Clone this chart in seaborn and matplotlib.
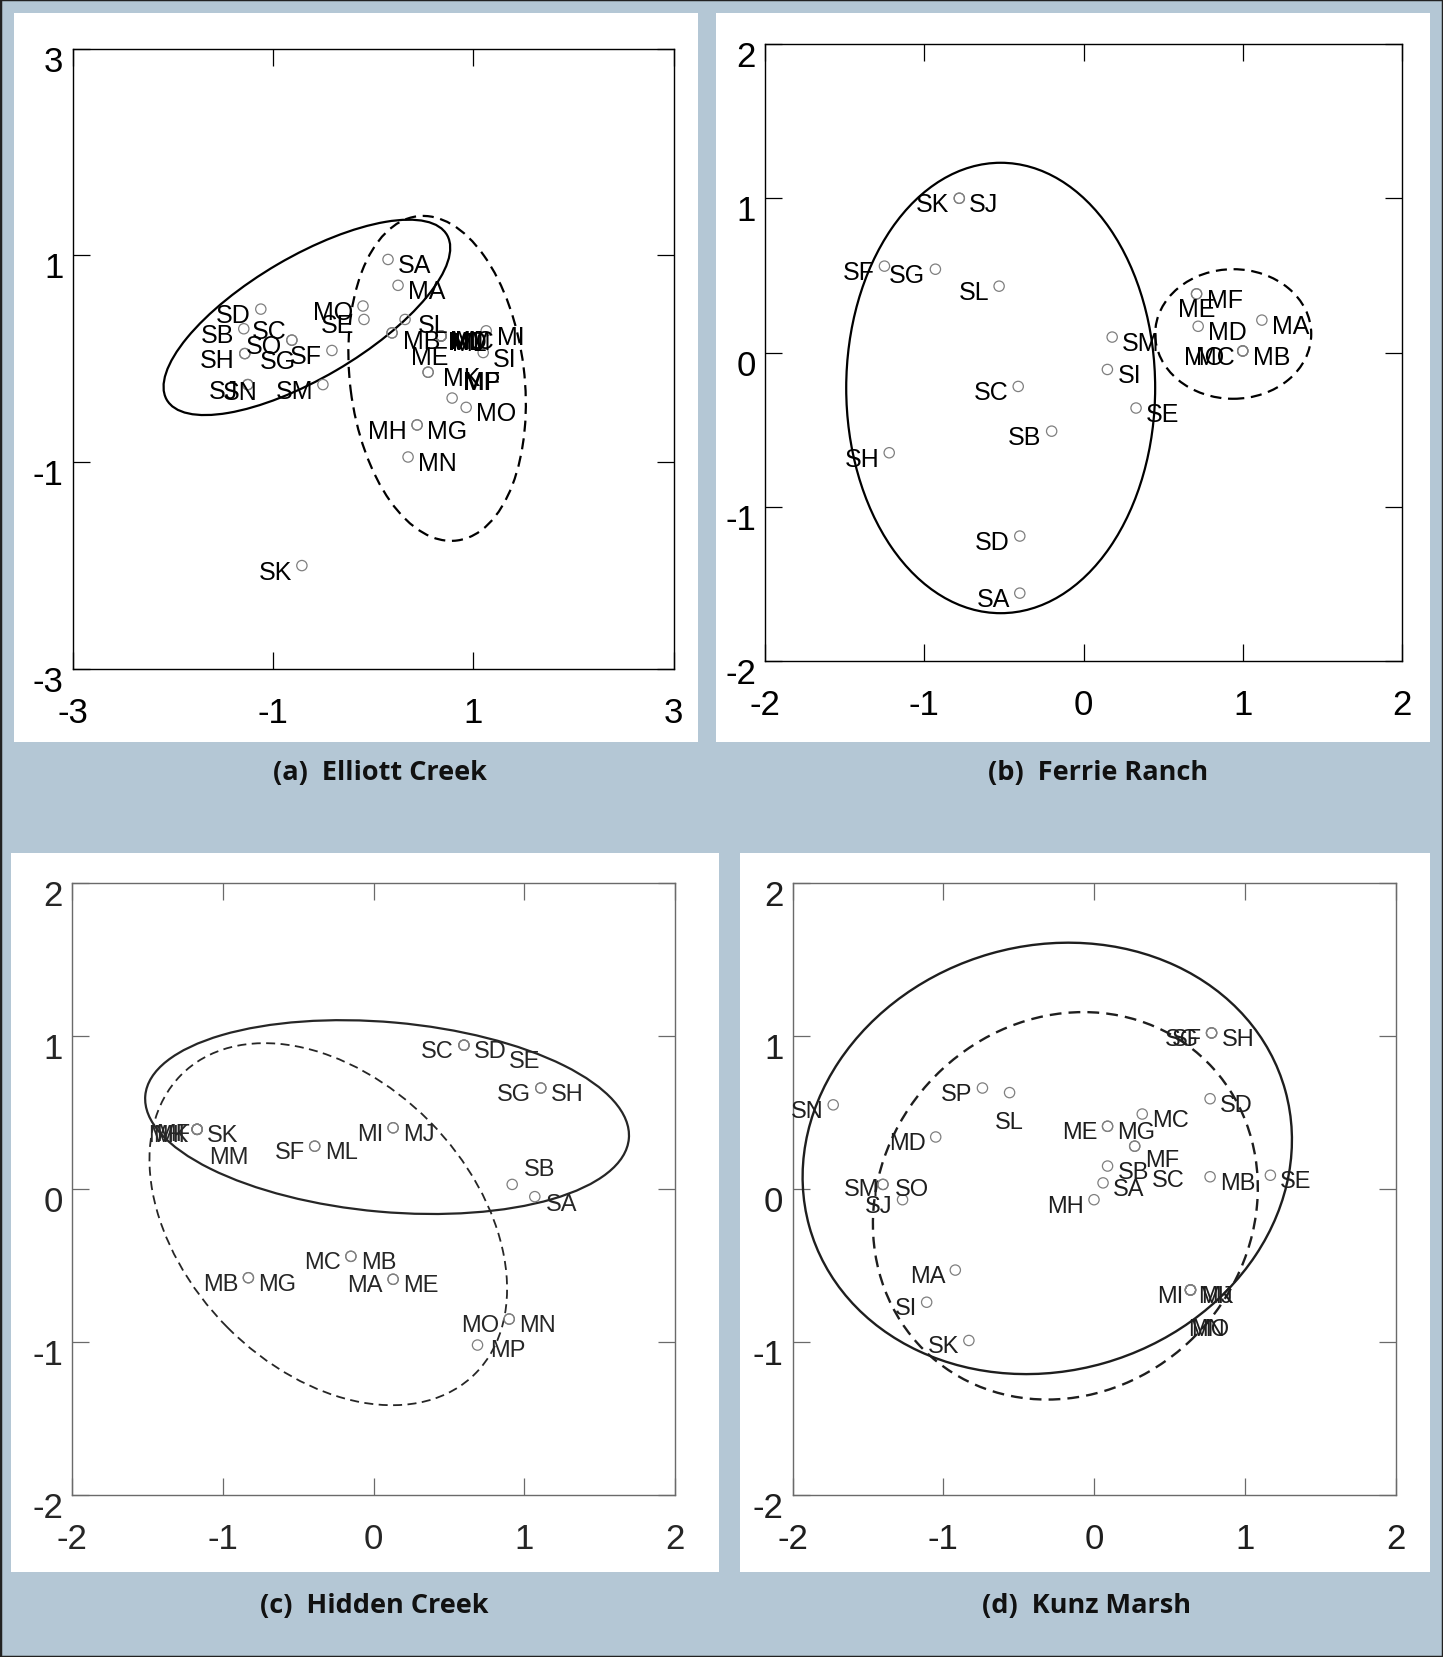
import numpy as np
import pandas as pd
import matplotlib
matplotlib.use("Agg")
import matplotlib.pyplot as plt
from matplotlib.patches import Ellipse, Rectangle
from matplotlib.transforms import ScaledTranslation
import seaborn as sns

sns.set_style("white")
plt.rcParams["font.family"] = ["Liberation Sans", "DejaVu Sans"]
plt.rcParams["axes.unicode_minus"] = False

W, H = 1443, 1658

# ---------------- (a) Elliott Creek ----------------
elliott_sites = ["SA", "MA", "MO", "SE", "SD", "SB", "SC", "SO", "SH", "SG", "SF", "SJ", "SN",
                 "SM", "SL", "MB", "ME", "MD", "MJ", "ML", "MM", "MC", "MI", "SI", "MK", "MP",
                 "MF", "MO", "MH", "MG", "MN", "SK"]
elliott_x = [0.15, 0.25, -0.10, -0.09, -1.12, -1.29, -0.81, -0.81, -1.28, -1.28, -0.41, -1.25, -1.25,
             -0.50, 0.32, 0.19, 0.19, 0.68, 0.68, 0.68, 0.68, 0.68, 1.13, 1.10, 0.55, 0.55,
             0.79, 0.93, 0.44, 0.44, 0.35, -0.71]
elliott_y = [0.96, 0.71, 0.51, 0.38, 0.48, 0.29, 0.18, 0.18, 0.05, 0.05, 0.08, -0.25, -0.25,
             -0.25, 0.38, 0.25, 0.25, 0.22, 0.22, 0.22, 0.22, 0.22, 0.27, 0.06, -0.13, -0.13,
             -0.38, -0.47, -0.64, -0.64, -0.95, -2.00]
elliott_ell_center = [(-0.66, 0.40), (0.64, -0.19)]
elliott_ell_radii = [(1.61, 0.59), (1.58, 0.87)]
elliott_ell_angle = [29.5, -82.7]

# ---------------- (b) Ferrie Ranch ----------------
ferrie_sites = ["SK", "SJ", "SF", "SG", "SL", "SM", "SI", "SE", "SC", "SB", "SH", "SD", "SA",
                "ME", "MF", "MD", "MA", "MB", "MC", "MO"]
ferrie_x = [-0.78, -0.78, -1.25, -0.93, -0.53, 0.18, 0.15, 0.33, -0.41, -0.20, -1.22, -0.40, -0.40,
            0.71, 0.71, 0.72, 1.12, 1.00, 1.00, 1.00]
ferrie_y = [1.00, 1.00, 0.56, 0.54, 0.43, 0.10, -0.11, -0.36, -0.22, -0.51, -0.65, -1.19, -1.56,
            0.38, 0.38, 0.17, 0.21, 0.01, 0.01, 0.01]
ferrie_ell_center = [(-0.52, -0.23), (0.94, 0.12)]
ferrie_ell_radii = [(0.97, 1.46), (0.49, 0.42)]
ferrie_ell_angle = [0.0, 0.0]

# ---------------- (c) Hidden Creek ----------------
hidden_sites = ["SC", "SD", "SE", "SG", "SH", "SK", "MM", "MK", "MH", "MF", "SF", "ML", "MI", "MJ",
                "SB", "SA", "MB", "MG", "MC", "MB", "MA", "ME", "MO", "MN", "MP"]
hidden_x = [0.60, 0.60, 0.60, 1.11, 1.11, -1.17, -1.17, -1.17, -1.17, -1.17, -0.39, -0.39, 0.13, 0.13,
            0.92, 1.07, -0.83, -0.83, -0.15, -0.15, 0.13, 0.13, 0.90, 0.90, 0.69]
hidden_y = [0.94, 0.94, 0.94, 0.66, 0.66, 0.39, 0.39, 0.39, 0.39, 0.39, 0.28, 0.28, 0.40, 0.40,
            0.03, -0.05, -0.58, -0.58, -0.44, -0.44, -0.59, -0.59, -0.85, -0.85, -1.02]
hidden_ell_center = [(0.09, 0.47), (-0.30, -0.23)]
hidden_ell_radii = [(1.61, 0.62), (1.38, 0.95)]
hidden_ell_angle = [-5.0, -44.8]

# ---------------- (d) Kunz Marsh ----------------
kunz_sites = ["SN", "SP", "SL", "MD", "SM", "SO", "SJ", "ME", "MG", "MC", "MF", "SC", "SB", "SA",
              "MH", "MB", "SE", "SH", "SF", "SG", "SD", "MA", "SI", "SK", "MI", "MK", "MJ", "MN", "MO"]
kunz_x = [-1.73, -0.74, -0.56, -1.05, -1.40, -1.40, -1.27, 0.09, 0.09, 0.32, 0.27, 0.27, 0.09, 0.06,
          0.00, 0.77, 1.17, 0.78, 0.78, 0.78, 0.77, -0.92, -1.11, -0.83, 0.64, 0.64, 0.64, 0.64, 0.64]
kunz_y = [0.55, 0.66, 0.63, 0.34, 0.03, 0.03, -0.07, 0.41, 0.41, 0.49, 0.28, 0.28, 0.15, 0.04,
          -0.07, 0.08, 0.09, 1.02, 1.02, 1.02, 0.59, -0.53, -0.74, -0.99, -0.66, -0.66, -0.66, -0.66, -0.66]
kunz_ell_center = [(-0.31, 0.20), (-0.19, -0.11)]
kunz_ell_radii = [(1.64, 1.39), (1.33, 1.21)]
kunz_ell_angle = [15.7, 42.5]

# label placement (pixel offsets from the marker, alignment)
R = (10, -8, "left")
L = (-10, -8, "right")
elliott_text = [R, R, L, L, L, L, (-5, 7, "right"), L, L, (15, -9, "left"), L, L, (10, -9, "right"),
                L, (13, -8, "left"), (11, -10, "left"), (19, -26, "left"), (7, -8, "left"),
                (9, -7, "left"), (11, -9, "left"), (8, -8, "left"), (14, -7, "left"), (11, -8, "left"),
                R, (15, -8, "left"), (35, -12, "left"), (12, 14, "left"), R, L, R, R, L]
ferrie_text = [L, R, L, L, L, R, R, R, L, L, L, L, L, (0, -17, "center"), R, R, R, R,
               (-8, -8, "right"), (-18, -8, "right")]
hidden_text = [L, R, (45, -18, "left"), L, R, R, (12, -30, "left"), (-9, -8, "right"),
               (-12, -8, "right"), (-7, -7, "right"), L, R, L, R, (12, 13, "left"), (11, -9, "left"),
               L, R, L, R, L, R, L, R, (13, -7, "left")]
kunz_text = [L, L, (0, -31, "center"), L, (-4, -7, "right"), (12, -7, "left"), L, L, R, R,
             (10, -16, "left"), (17, -36, "left"), R, R, L, R, R, R, (-10, -8, "right"),
             (-13, -8, "right"), R, L, L, L, (-7, -8, "right"), (8, -8, "left"), (11, -8, "left"),
             (-2, -41, "left"), (1, -41, "left")]


def px_rect(x0, y0, x1, y1):
    return [x0 / W, 1 - y1 / H, (x1 - x0) / W, (y1 - y0) / H]


fig = plt.figure(figsize=(W / 100, H / 100), dpi=100)
fig.patch.set_facecolor("#b4c7d5")

# white plate behind each panel
for (x0, y0, x1, y1) in [(14, 14, 698, 743), (716, 14, 1430, 743),
                         (11, 854, 719, 1573), (740, 854, 1430, 1573)]:
    fig.patches.append(Rectangle((x0 / W, 1 - y1 / H), (x1 - x0) / W, (y1 - y0) / H,
                                 transform=fig.transFigure, facecolor="white",
                                 edgecolor="none", zorder=-5))
fig.patches.append(Rectangle((0, 0), 1, 1, transform=fig.transFigure, facecolor="none",
                             edgecolor="#222222", linewidth=2.5, zorder=5))


def draw_panel(rect, sites, xs, ys, text_pos, centers, radii, angles, ticks, lim,
               ink, frame, line_w, dash_w, dash_pat, label_size):
    ax = fig.add_axes(rect)
    ax.set_zorder(1)
    ax.set_facecolor("white")
    df = pd.DataFrame({"site": sites, "x": xs, "y": ys})
    sns.scatterplot(data=df, x="x", y="y", ax=ax, marker="o", s=55, facecolor="none",
                    edgecolor="#7f7f7f", linewidth=0.9, legend=False, zorder=3)
    for name, x, y, (dx, dy, ha) in zip(df["site"], df["x"], df["y"], text_pos):
        ax.annotate(name, (x, y), xytext=(dx, dy + 2), textcoords="offset pixels",
                    ha=ha, va="center", fontsize=label_size, color=ink, zorder=4)
    for i, ((cx, cy), (r1, r2), ang) in enumerate(zip(centers, radii, angles)):
        if i == 0:
            e = Ellipse((cx, cy), 2 * r1, 2 * r2, angle=ang, fill=False, edgecolor=ink,
                        linewidth=line_w, zorder=2)
        else:
            e = Ellipse((cx, cy), 2 * r1, 2 * r2, angle=ang, fill=False, edgecolor=ink,
                        linewidth=dash_w, linestyle=(0, dash_pat), zorder=2)
        ax.add_patch(e)
    ax.set_xlim(lim)
    ax.set_ylim(lim)
    ax.set_xticks(ticks)
    ax.set_yticks(ticks)
    labels = [("%d" % t) for t in ticks]
    ax.set_xticklabels(labels)
    ax.set_yticklabels(labels)
    ax.set_xlabel("")
    ax.set_ylabel("")
    ax.grid(False)
    ax.tick_params(axis="both", direction="in", length=12.5, width=0.9, color=frame,
                   top=True, right=True, bottom=True, left=True, labelsize=25,
                   labelcolor=ink)
    ax.tick_params(axis="x", pad=19.5)
    ax.tick_params(axis="y", pad=6.5)
    shift = ScaledTranslation(0, -9 / 100, fig.dpi_scale_trans)
    for lab in ax.get_yticklabels():
        lab.set_transform(lab.get_transform() + shift)
    for sp in ax.spines.values():
        sp.set_visible(True)
        sp.set_color(frame)
        sp.set_linewidth(1.0)
    return ax


draw_panel(px_rect(72.5, 49.5, 673.5, 670), elliott_sites, elliott_x, elliott_y, elliott_text,
           elliott_ell_center, elliott_ell_radii, elliott_ell_angle, [-3, -1, 1, 3], (-3, 3),
           "black", "black", 1.6, 1.6, (5, 3), 18)
draw_panel(px_rect(765, 45, 1402, 662), ferrie_sites, ferrie_x, ferrie_y, ferrie_text,
           ferrie_ell_center, ferrie_ell_radii, ferrie_ell_angle, [-2, -1, 0, 1, 2], (-2, 2),
           "black", "black", 1.6, 1.6, (5, 3), 18)
draw_panel(px_rect(72, 884, 675, 1496), hidden_sites, hidden_x, hidden_y, hidden_text,
           hidden_ell_center, hidden_ell_radii, hidden_ell_angle, [-2, -1, 0, 1, 2], (-2, 2),
           "#262626", "#6a6a6a", 1.6, 1.3, (5, 3), 17)
draw_panel(px_rect(792.5, 884, 1395.5, 1496), kunz_sites, kunz_x, kunz_y, kunz_text,
           kunz_ell_center, kunz_ell_radii, kunz_ell_angle, [-2, -1, 0, 1, 2], (-2, 2),
           "#1e1e1e", "#6a6a6a", 1.7, 1.7, (5, 3), 17)

captions = ["(a)  Elliott Creek", "(b)  Ferrie Ranch", "(c)  Hidden Creek", "(d)  Kunz Marsh"]
caption_xy = [(380, 773), (1098, 773), (374, 1606), (1086, 1606)]
for text, (cx, cy) in zip(captions, caption_xy):
    fig.text(cx / W, 1 - cy / H, text, ha="center", va="center", fontsize=19.5,
             fontweight="bold", family=["Open Sans", "DejaVu Sans"], color="#111111")

fig.savefig("out.png", dpi=100, facecolor=fig.get_facecolor())
